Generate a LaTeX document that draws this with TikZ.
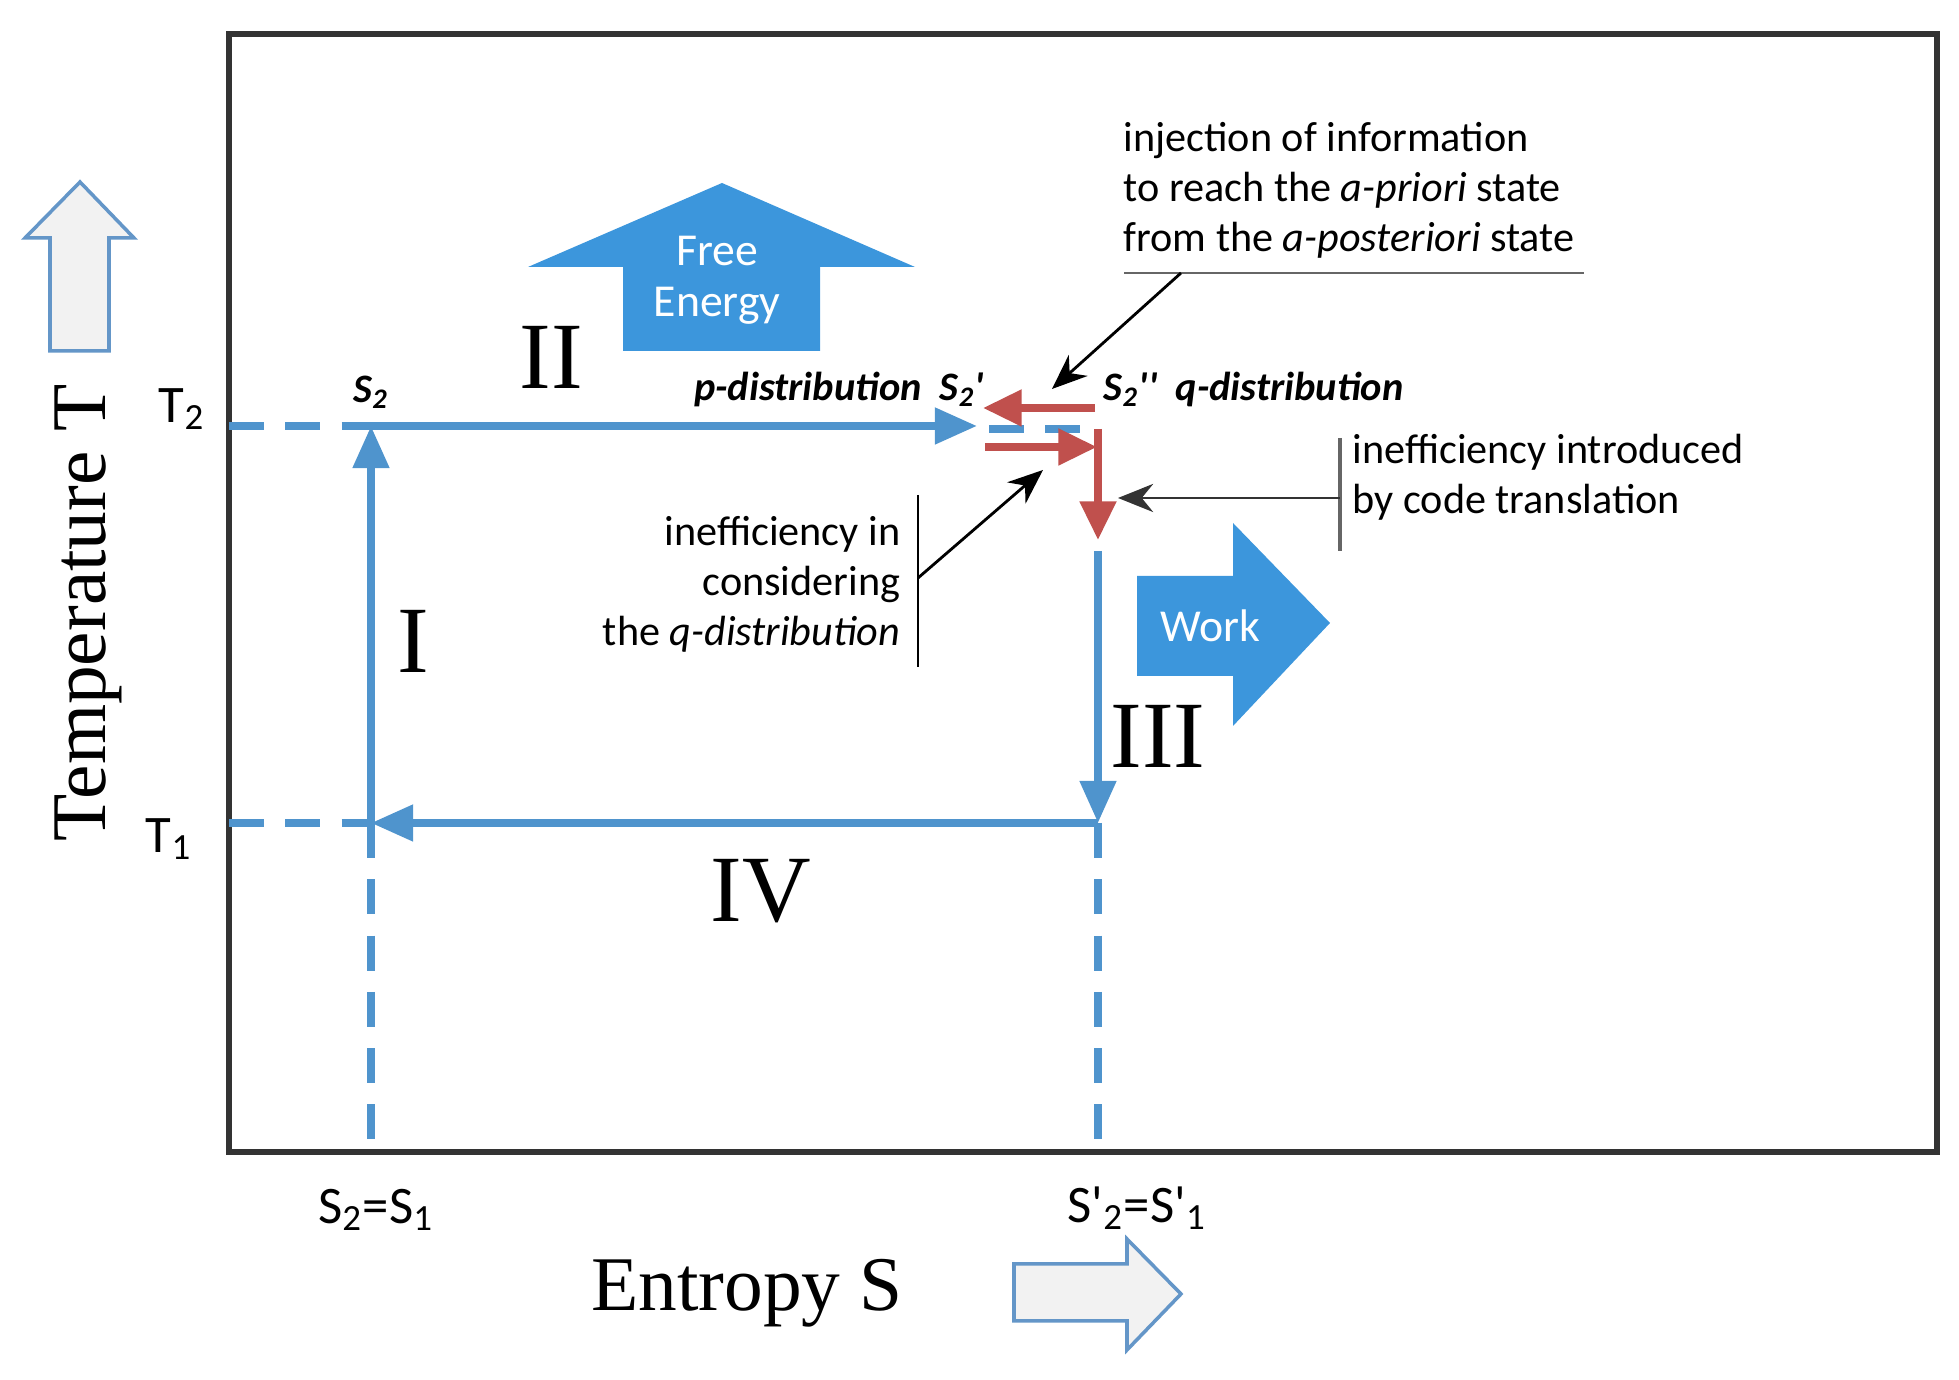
\documentclass[tikz,border=0pt]{standalone}
\usepackage{fontspec}
\setmainfont{Carlito}
\newfontfamily\serifr{Liberation Serif}
\usetikzlibrary{arrows.meta}
\definecolor{cb}{RGB}{79,148,205}
\definecolor{cr}{RGB}{192,80,77}
\definecolor{cf}{RGB}{60,150,220}
\definecolor{hg}{RGB}{242,242,242}
\definecolor{hb}{RGB}{100,150,200}
\begin{document}
\begin{tikzpicture}[x=0.01cm,y=-0.01cm,
 bl/.style={cb,line width=2.2pt},
 bld/.style={cb,line width=2.2pt,dash pattern=on 10pt off 6pt},
 ra/.style={cr,line width=2.2pt,-{Triangle[length=11pt,width=10pt]}},
 ba/.style={bl,-{Triangle[length=12pt,width=10pt]}},
 ptr/.style={black,line width=0.8pt,-{Stealth[length=10pt,width=8pt]}},
 txt/.style={font=\fontsize{12}{14.2}\selectfont,inner sep=0},
 rom/.style={font=\serifr\fontsize{27}{27}\selectfont,inner sep=0},
 ax/.style={font=\serifr\fontsize{22}{22}\selectfont,inner sep=0},
 sl/.style={font=\fontsize{15}{17}\selectfont,inner sep=0},
 lbl/.style={font=\bfseries\itshape\fontsize{11.5}{14}\selectfont,inner sep=0}]
\useasboundingbox (0,0) rectangle (1959,1380);
\draw[line width=1.5pt,black!80] (229,34) rectangle (1937,1152);
% hollow arrows
\draw[hb,fill=hg,line width=1pt] (50,351)--(50,238)--(25,238)--(80,182)--(134,238)--(109,238)--(109,351)--cycle;
\draw[hb,fill=hg,line width=1pt] (1014,1264)--(1127,1264)--(1127,1239)--(1181,1294)--(1127,1350)--(1127,1321)--(1014,1321)--cycle;
% Free energy and work
\fill[cf] (623,351)--(623,267)--(528,267)--(722,183)--(915,267)--(820,267)--(820,351)--cycle;
\node[white,align=center,inner sep=0,font=\fontsize{13}{14.5}\selectfont] (fe) at (717,280) {Free\\Energy};
\fill[cf] (1137,576)--(1233,576)--(1233,523)--(1330,623)--(1233,726)--(1233,676)--(1137,676)--cycle;
\node[white,inner sep=0,font=\fontsize{13}{15}\selectfont] (wk) at (1210,626) {Work};
% coordinates
\coordinate (A) at (371,426); \coordinate (B) at (977,426);
\coordinate (Bd) at (1098,429); \coordinate (C0) at (1098,551);
\coordinate (C) at (1098,823); \coordinate (D) at (371,823);
\coordinate (L2) at (229,426); \coordinate (L1) at (229,823);
\coordinate (Sb) at (371,1152); \coordinate (Spb) at (1098,1152);
% cycle
\draw[ba] (D)--(A);
\draw[ba] (A)--(B);
\draw[bld] (989,429)--(Bd);
\draw[ba] (C0)--(C);
\draw[ba] (C)--(D);
\draw[bld] (L2)--(A); \draw[bld] (L1)--(D);
\draw[bld] (D)--(Sb); \draw[bld] (C)--(Spb);
% red
\draw[ra] (1095,408)--(983,408);
\draw[ra] (985,447)--(1097,447);
\draw[cr,line width=2.2pt] (1098,429)--(1098,460);
\draw[ra] (1098,440)--(1098,540);
% labels
\node[sl] (t2) at (182,409) {T\textsubscript{2}};
\node[sl] (t1) at (169,839) {T\textsubscript{1}};
\node[ax,rotate=90] (tt) at (88,613) {Temperature T};
\node[ax] (es) at (747,1293) {Entropy S};
\node[sl] (s21) at (376,1210) {S\textsubscript{2}=S\textsubscript{1}};
\node[sl] (sp) at (1137,1208) {S\textquotesingle\textsubscript{2}=S\textquotesingle\textsubscript{1}};
\node[rom] at (413,641) {I};
\node[rom] at (551,357) {II};
\node[rom] at (1158,736) {III};
\node[rom] at (761,891) {IV};
\node[lbl] (s2) at (371,392) {S\textsubscript{2}};
\node[lbl,anchor=east] (pd) at (985,389) {p-distribution\ \ S\textsubscript{2}\textquotesingle};
\node[lbl,anchor=west] (qd) at (1103,389) {S\textsubscript{2}\textquotesingle\textquotesingle\ \ q-distribution};
\node[txt,anchor=west,align=left] (inj) at (1123,190) {injection of information\\to reach the \textit{a-priori} state\\from the \textit{a-posteriori} state};
\draw[black!60,line width=0.8pt] (1124,273)--(1584,273);
\draw[ptr] (1181,273)--(1052,389);
\node[txt,anchor=east,align=right] (ic) at (901,584) {inefficiency in\\considering\\the \textit{q-distribution}};
\draw[black,line width=0.8pt] (918,495)--(918,667);
\draw[ptr] (918,578)--(1043,470);
\node[txt,anchor=west,align=left] (it) at (1352,477) {inefficiency introduced\\by code translation};
\draw[black!60,line width=1.2pt] (1340,438)--(1340,551);
\draw[ptr,black!80] (1340,498)--(1118,498);
\end{tikzpicture}
\end{document}
